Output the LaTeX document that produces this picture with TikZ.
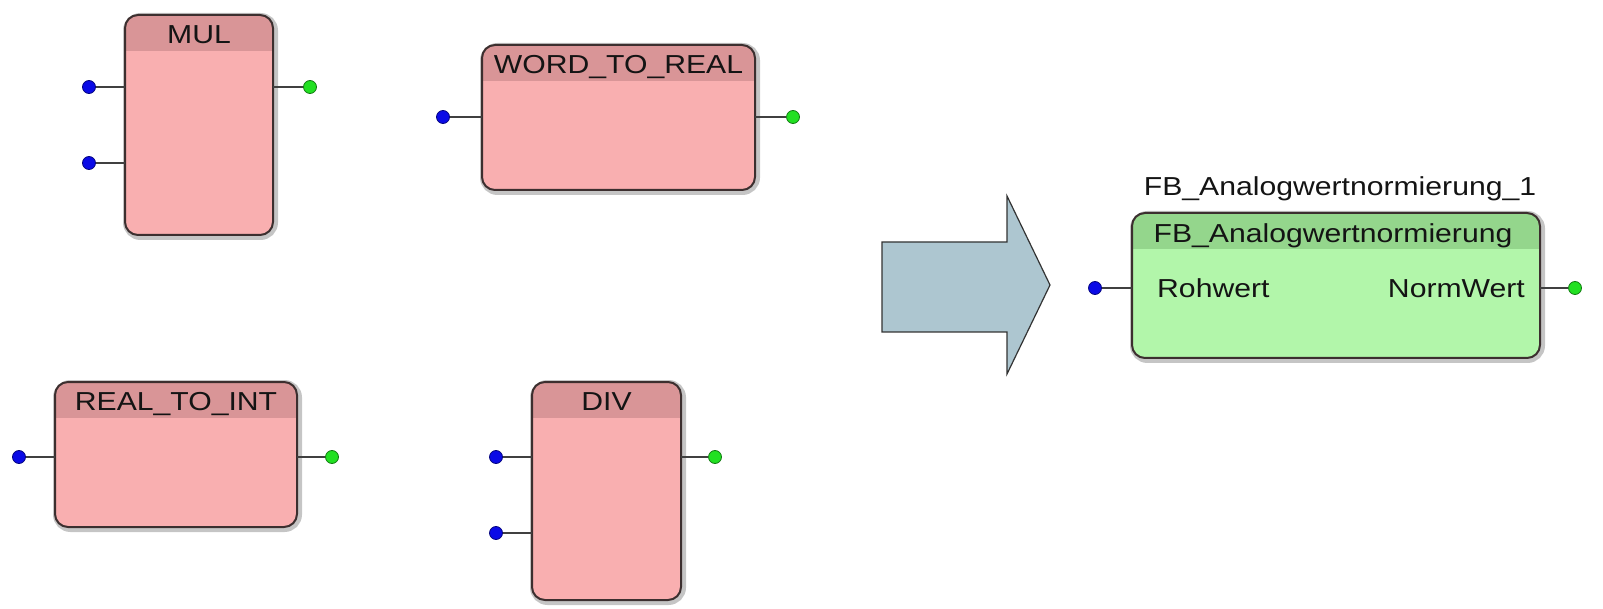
\documentclass[tikz,border=0pt]{standalone}
\usepackage{fontspec}
\setmainfont[FakeStretch=1.16]{Liberation Sans}
\usetikzlibrary{calc,fit}

\definecolor{bodypink}{HTML}{F9AFB0}
\definecolor{headpink}{HTML}{D99597}
\definecolor{bodygreen}{HTML}{B2F6AA}
\definecolor{headgreen}{HTML}{94D68C}
\definecolor{boxline}{HTML}{3C2F2F}
\definecolor{halocol}{HTML}{8C8C8C}
\definecolor{wirecol}{HTML}{404040}
\definecolor{pinblue}{HTML}{0A0AE6}
\definecolor{pingreen}{HTML}{22E022}
\definecolor{arrowfill}{HTML}{ADC6D0}

\tikzset{
  frame/.style={inner sep=0pt, outer sep=0pt},
  halo/.style={draw=halocol, line width=7pt, rounded corners=14pt, opacity=.5},
  border/.style={draw=boxline, line width=2pt, rounded corners=13pt},
  wire/.style={draw=wirecol, line width=1.6pt},
  inpin/.style={circle, fill=pinblue, draw=pinblue!55!black, line width=.8pt,
    minimum size=13pt, inner sep=0pt},
  outpin/.style={circle, fill=pingreen, draw=pingreen!55!black, line width=.8pt,
    minimum size=13pt, inner sep=0pt},
  lbl/.style={font=\fontsize{26}{26}\selectfont, text=black!92, inner sep=0pt,
    text height=18.6pt, text depth=0pt},
}

% #1 name, #2-#5 corners (x1,y1,x2,y2), #6 body colour, #7 header colour
\newcommand\pouBlock[7]{%
  \node[frame, fit={(#2,#3) (#4,#5)}] (#1) {};
  \path[halo] ($(#1.north west)+(1.5,1.5)$) rectangle ($(#1.south east)+(1.5,1.5)$);
  \fill[#6, rounded corners=13pt] (#1.north west) rectangle (#1.south east);
  \begin{scope}
    \clip[rounded corners=13pt] (#1.north west) rectangle (#1.south east);
    \fill[#7] (#1.north west) rectangle ($(#1.north east)+(0,36)$);
  \end{scope}
  \path[border] (#1.north west) rectangle (#1.south east);
}

\begin{document}
\begin{tikzpicture}[x=1pt, y=-1pt]
  \useasboundingbox (0,0) rectangle (1603,609);

  % MUL
  \pouBlock{mul}{125}{15}{273}{235}{bodypink}{headpink}
  \node[lbl] (mul-t) at ($(mul.north)+(0,19)$) {MUL};
  \node[inpin] (mul-i1) at (89,87) {};
  \node[inpin] (mul-i2) at (89,163) {};
  \node[outpin] (mul-o) at (310,87) {};
  \draw[wire] (mul-i1) -- (mul-i1 -| mul.west);
  \draw[wire] (mul-i2) -- (mul-i2 -| mul.west);
  \draw[wire] (mul-o) -- (mul-o -| mul.east);

  % WORD_TO_REAL
  \pouBlock{w2r}{482}{45}{755}{190}{bodypink}{headpink}
  \node[lbl] (w2r-t) at ($(w2r.north)+(0,19)$) {WORD\_TO\_REAL};
  \node[inpin] (w2r-i) at (443,117) {};
  \node[outpin] (w2r-o) at (793,117) {};
  \draw[wire] (w2r-i) -- (w2r-i -| w2r.west);
  \draw[wire] (w2r-o) -- (w2r-o -| w2r.east);

  % REAL_TO_INT
  \pouBlock{r2i}{55}{382}{297}{527}{bodypink}{headpink}
  \node[lbl] (r2i-t) at ($(r2i.north)+(0,19)$) {REAL\_TO\_INT};
  \node[inpin] (r2i-i) at (19,457) {};
  \node[outpin] (r2i-o) at (332,457) {};
  \draw[wire] (r2i-i) -- (r2i-i -| r2i.west);
  \draw[wire] (r2i-o) -- (r2i-o -| r2i.east);

  % DIV
  \pouBlock{div}{532}{382}{681}{600}{bodypink}{headpink}
  \node[lbl] (div-t) at ($(div.north)+(0,19)$) {DIV};
  \node[inpin] (div-i1) at (496,457) {};
  \node[inpin] (div-i2) at (496,533) {};
  \node[outpin] (div-o) at (715,457) {};
  \draw[wire] (div-i1) -- (div-i1 -| div.west);
  \draw[wire] (div-i2) -- (div-i2 -| div.west);
  \draw[wire] (div-o) -- (div-o -| div.east);

  % block arrow
  \draw[fill=arrowfill, draw=black!80, line width=1.2pt, line join=miter]
    (882,242) -- (1007,242) -- (1007,196) -- (1050,285) -- (1007,374)
    -- (1007,332) -- (882,332) -- cycle;

  % function block instance
  \pouBlock{fb}{1132}{213}{1540}{358}{bodygreen}{headgreen}
  \node[lbl] (fb-inst) at ($(fb.north)+(4,-27)$) {FB\_Analogwertnormierung\_1};
  \node[lbl] (fb-t) at ($(fb.north)+(-3,20)$) {FB\_Analogwertnormierung};
  \node[inpin] (fb-i) at (1095,288) {};
  \node[outpin] (fb-o) at (1575,288) {};
  \node[lbl, anchor=west] (fb-rw) at (1157,288) {Rohwert};
  \node[lbl, anchor=east] (fb-nw) at (1525,288) {NormWert};
  \draw[wire] (fb-i) -- (fb-i -| fb.west);
  \draw[wire] (fb-o) -- (fb-o -| fb.east);
\end{tikzpicture}
\end{document}
